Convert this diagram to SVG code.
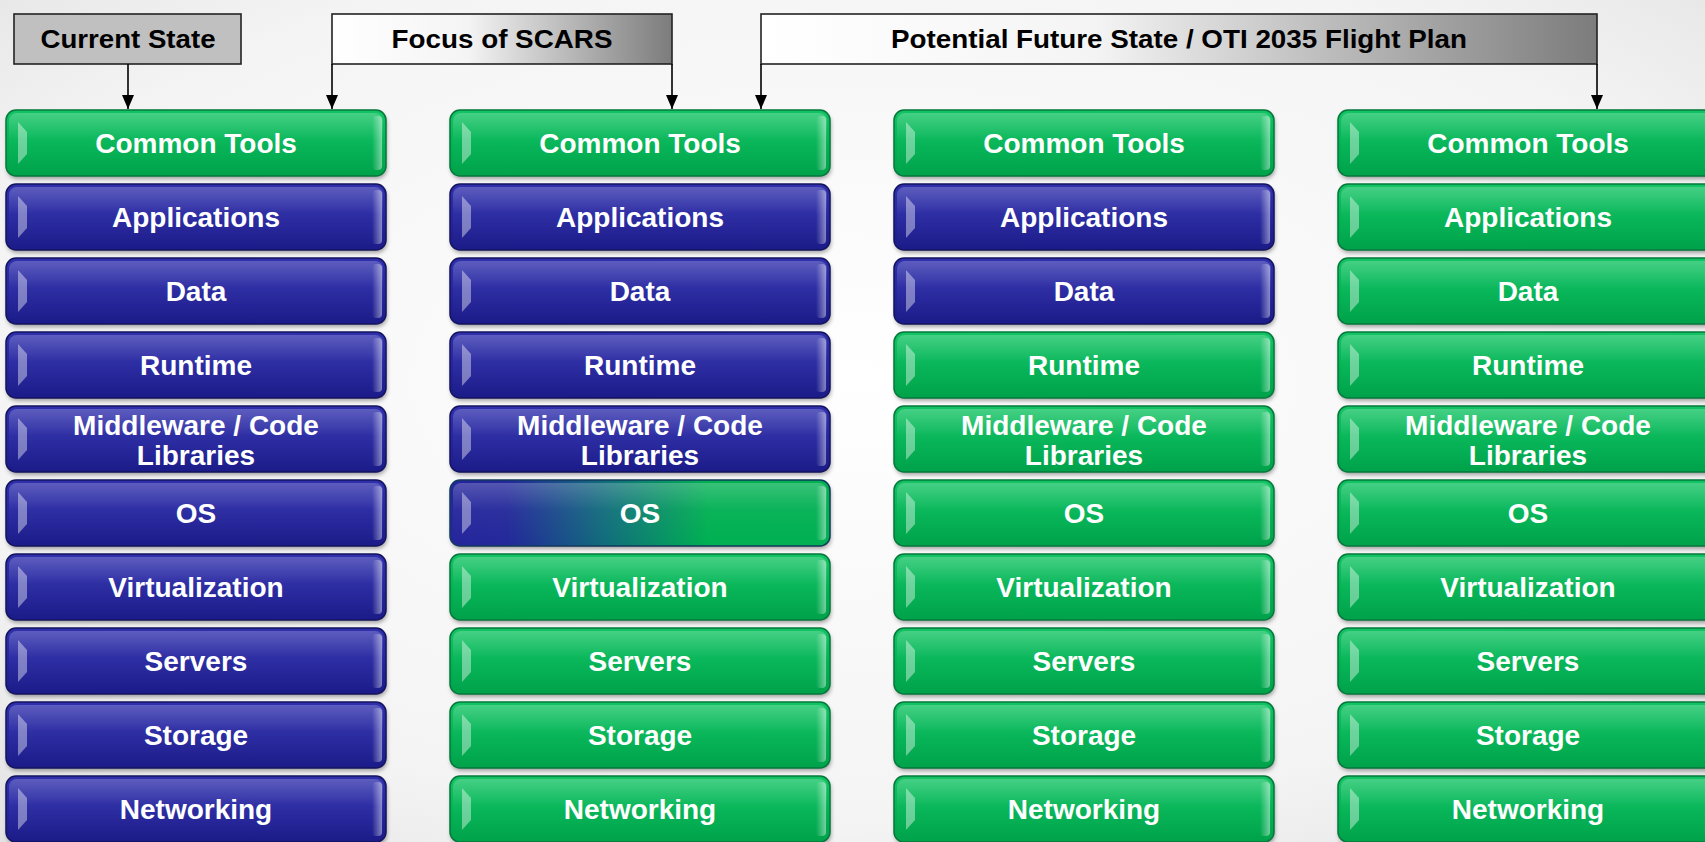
<svg xmlns="http://www.w3.org/2000/svg" xmlns:xlink="http://www.w3.org/1999/xlink" width="1705" height="842" viewBox="0 0 1705 842">
<style>
.lbl{font-family:"Liberation Sans",Arial,sans-serif;font-weight:bold;font-size:28px;fill:#fff;text-anchor:middle;dominant-baseline:central}
.hdr{font-family:"Liberation Sans",Arial,sans-serif;font-weight:bold;font-size:26px;fill:#000;text-anchor:middle;dominant-baseline:central}
.hbox{stroke:#222;stroke-width:1.6}
.conn{stroke:#000;stroke-width:1.6;fill:none;marker-end:url(#arr)}
.green{fill:url(#gG);stroke:#06783c}
.blue{fill:url(#gB);stroke:#14145e}
.mix{fill:url(#gOS);stroke:#103a5a}
</style>
<defs>
<radialGradient id="bg" cx="0.5" cy="0.45" r="0.75">
<stop offset="0" stop-color="#ffffff"/>
<stop offset="0.7" stop-color="#f4f4f4"/>
<stop offset="1" stop-color="#e2e2e2"/>
</radialGradient>
<linearGradient id="gG" x1="0" y1="0" x2="0" y2="1">
<stop offset="0" stop-color="#12c464"/>
<stop offset="0.5" stop-color="#00b353"/>
<stop offset="1" stop-color="#00a24a"/>
</linearGradient>
<linearGradient id="gB" x1="0" y1="0" x2="0" y2="1">
<stop offset="0" stop-color="#3030ae"/>
<stop offset="0.5" stop-color="#25259f"/>
<stop offset="1" stop-color="#1b1b88"/>
</linearGradient>
<linearGradient id="gOS" x1="0" y1="0" x2="1" y2="0">
<stop offset="0" stop-color="#25259c"/>
<stop offset="0.15" stop-color="#23289a"/>
<stop offset="0.42" stop-color="#10707a"/>
<stop offset="0.68" stop-color="#00b052"/>
<stop offset="1" stop-color="#00b052"/>
</linearGradient>
<linearGradient id="shine" x1="0" y1="0" x2="0" y2="1">
<stop offset="0" stop-color="#fff" stop-opacity="0.22"/>
<stop offset="0.45" stop-color="#fff" stop-opacity="0.04"/>
<stop offset="1" stop-color="#fff" stop-opacity="0"/>
</linearGradient>
<linearGradient id="redge" x1="0" y1="0" x2="1" y2="0">
<stop offset="0" stop-color="#fff" stop-opacity="0"/>
<stop offset="1" stop-color="#fff" stop-opacity="0.45"/>
</linearGradient>
<linearGradient id="hdrG" x1="0" y1="0" x2="1" y2="0">
<stop offset="0" stop-color="#ffffff"/>
<stop offset="0.4" stop-color="#f4f4f4"/>
<stop offset="1" stop-color="#7c7c7c"/>
</linearGradient>
<filter id="blur" x="-5%" y="-20%" width="110%" height="140%">
<feGaussianBlur stdDeviation="2"/>
</filter>
<marker id="arr" viewBox="0 0 14 12" markerWidth="14" markerHeight="12" refX="14" refY="6" orient="auto" markerUnits="userSpaceOnUse">
<path d="M0,0 L14,6 L0,12 z" fill="#000"/>
</marker>
<g id="box">
<rect x="1" y="3" width="380" height="66" rx="10" fill="#000" fill-opacity="0.35" stroke="none" filter="url(#blur)"/>
<rect x="0" y="0" width="380" height="66" rx="10" stroke-width="1.5"/>
<rect x="3" y="3" width="374" height="60" rx="8" fill="url(#shine)" stroke="none"/>
<polygon points="12,12 21,22 21,44 12,54" fill="#fff" fill-opacity="0.4" stroke="none"/>
<rect x="366" y="6" width="10" height="54" rx="4" fill="url(#redge)" stroke="none"/>
</g>
</defs>

<rect x="0" y="0" width="1705" height="842" fill="url(#bg)"/>

<g id="headers">
<g id="hdr-current">
<rect class="hbox" x="14" y="14" width="227" height="50" fill="#c0c0c0"/>
<text class="hdr" x="128" y="39" textLength="175" lengthAdjust="spacingAndGlyphs">Current State</text>
</g>
<g id="hdr-focus">
<rect class="hbox" x="332" y="14" width="340" height="50" fill="url(#hdrG)"/>
<text class="hdr" x="502" y="39" textLength="221" lengthAdjust="spacingAndGlyphs">Focus of SCARS</text>
</g>
<g id="hdr-future">
<rect class="hbox" x="761" y="14" width="836" height="50" fill="url(#hdrG)"/>
<text class="hdr" x="1179" y="39" textLength="576" lengthAdjust="spacingAndGlyphs">Potential Future State / OTI 2035 Flight Plan</text>
</g>
</g>

<g id="connectors">
<line class="conn" x1="128" y1="64" x2="128" y2="109"/>
<line class="conn" x1="332" y1="64" x2="332" y2="109"/>
<line class="conn" x1="672" y1="64" x2="672" y2="109"/>
<line class="conn" x1="761" y1="64" x2="761" y2="109"/>
<line class="conn" x1="1597" y1="64" x2="1597" y2="109"/>
</g>

<!-- Column 1 -->
<g id="c1-tools"><use href="#box" class="green" x="6" y="110"/><text class="lbl" x="196" y="143">Common Tools</text></g>
<g id="c1-apps"><use href="#box" class="blue" x="6" y="184"/><text class="lbl" x="196" y="217">Applications</text></g>
<g id="c1-data"><use href="#box" class="blue" x="6" y="258"/><text class="lbl" x="196" y="291">Data</text></g>
<g id="c1-runtime"><use href="#box" class="blue" x="6" y="332"/><text class="lbl" x="196" y="365">Runtime</text></g>
<g id="c1-middleware"><use href="#box" class="blue" x="6" y="406"/><text class="lbl" x="196" y="425">Middleware / Code</text><text class="lbl" x="196" y="455">Libraries</text></g>
<g id="c1-os"><use href="#box" class="blue" x="6" y="480"/><text class="lbl" x="196" y="513">OS</text></g>
<g id="c1-virt"><use href="#box" class="blue" x="6" y="554"/><text class="lbl" x="196" y="587">Virtualization</text></g>
<g id="c1-servers"><use href="#box" class="blue" x="6" y="628"/><text class="lbl" x="196" y="661">Servers</text></g>
<g id="c1-storage"><use href="#box" class="blue" x="6" y="702"/><text class="lbl" x="196" y="735">Storage</text></g>
<g id="c1-net"><use href="#box" class="blue" x="6" y="776"/><text class="lbl" x="196" y="809">Networking</text></g>

<!-- Column 2 -->
<g id="c2-tools"><use href="#box" class="green" x="450" y="110"/><text class="lbl" x="640" y="143">Common Tools</text></g>
<g id="c2-apps"><use href="#box" class="blue" x="450" y="184"/><text class="lbl" x="640" y="217">Applications</text></g>
<g id="c2-data"><use href="#box" class="blue" x="450" y="258"/><text class="lbl" x="640" y="291">Data</text></g>
<g id="c2-runtime"><use href="#box" class="blue" x="450" y="332"/><text class="lbl" x="640" y="365">Runtime</text></g>
<g id="c2-middleware"><use href="#box" class="blue" x="450" y="406"/><text class="lbl" x="640" y="425">Middleware / Code</text><text class="lbl" x="640" y="455">Libraries</text></g>
<g id="c2-os"><use href="#box" class="mix" x="450" y="480"/><text class="lbl" x="640" y="513">OS</text></g>
<g id="c2-virt"><use href="#box" class="green" x="450" y="554"/><text class="lbl" x="640" y="587">Virtualization</text></g>
<g id="c2-servers"><use href="#box" class="green" x="450" y="628"/><text class="lbl" x="640" y="661">Servers</text></g>
<g id="c2-storage"><use href="#box" class="green" x="450" y="702"/><text class="lbl" x="640" y="735">Storage</text></g>
<g id="c2-net"><use href="#box" class="green" x="450" y="776"/><text class="lbl" x="640" y="809">Networking</text></g>

<!-- Column 3 -->
<g id="c3-tools"><use href="#box" class="green" x="894" y="110"/><text class="lbl" x="1084" y="143">Common Tools</text></g>
<g id="c3-apps"><use href="#box" class="blue" x="894" y="184"/><text class="lbl" x="1084" y="217">Applications</text></g>
<g id="c3-data"><use href="#box" class="blue" x="894" y="258"/><text class="lbl" x="1084" y="291">Data</text></g>
<g id="c3-runtime"><use href="#box" class="green" x="894" y="332"/><text class="lbl" x="1084" y="365">Runtime</text></g>
<g id="c3-middleware"><use href="#box" class="green" x="894" y="406"/><text class="lbl" x="1084" y="425">Middleware / Code</text><text class="lbl" x="1084" y="455">Libraries</text></g>
<g id="c3-os"><use href="#box" class="green" x="894" y="480"/><text class="lbl" x="1084" y="513">OS</text></g>
<g id="c3-virt"><use href="#box" class="green" x="894" y="554"/><text class="lbl" x="1084" y="587">Virtualization</text></g>
<g id="c3-servers"><use href="#box" class="green" x="894" y="628"/><text class="lbl" x="1084" y="661">Servers</text></g>
<g id="c3-storage"><use href="#box" class="green" x="894" y="702"/><text class="lbl" x="1084" y="735">Storage</text></g>
<g id="c3-net"><use href="#box" class="green" x="894" y="776"/><text class="lbl" x="1084" y="809">Networking</text></g>

<!-- Column 4 -->
<g id="c4-tools"><use href="#box" class="green" x="1338" y="110"/><text class="lbl" x="1528" y="143">Common Tools</text></g>
<g id="c4-apps"><use href="#box" class="green" x="1338" y="184"/><text class="lbl" x="1528" y="217">Applications</text></g>
<g id="c4-data"><use href="#box" class="green" x="1338" y="258"/><text class="lbl" x="1528" y="291">Data</text></g>
<g id="c4-runtime"><use href="#box" class="green" x="1338" y="332"/><text class="lbl" x="1528" y="365">Runtime</text></g>
<g id="c4-middleware"><use href="#box" class="green" x="1338" y="406"/><text class="lbl" x="1528" y="425">Middleware / Code</text><text class="lbl" x="1528" y="455">Libraries</text></g>
<g id="c4-os"><use href="#box" class="green" x="1338" y="480"/><text class="lbl" x="1528" y="513">OS</text></g>
<g id="c4-virt"><use href="#box" class="green" x="1338" y="554"/><text class="lbl" x="1528" y="587">Virtualization</text></g>
<g id="c4-servers"><use href="#box" class="green" x="1338" y="628"/><text class="lbl" x="1528" y="661">Servers</text></g>
<g id="c4-storage"><use href="#box" class="green" x="1338" y="702"/><text class="lbl" x="1528" y="735">Storage</text></g>
<g id="c4-net"><use href="#box" class="green" x="1338" y="776"/><text class="lbl" x="1528" y="809">Networking</text></g>
</svg>
